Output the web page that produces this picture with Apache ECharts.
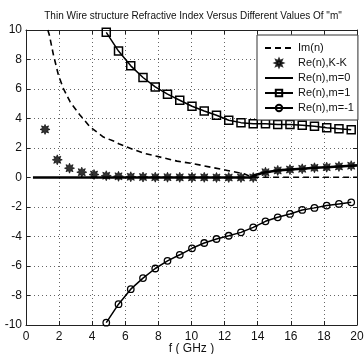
<!DOCTYPE html>
<html><head><meta charset="utf-8">
<script src="https://cdn.jsdelivr.net/npm/echarts@6/dist/echarts.min.js"></script>
<style>html,body{margin:0;padding:0;background:#fff}#c{width:364px;height:354px}</style>
</head><body><div id="c"></div>
<script>
// ---- data ----
const freq = [1.15,1.89,2.63,3.37,4.11,4.85,5.59,6.33,7.07,7.81,8.55,9.29,10.03,10.77,11.51,12.25,12.99,13.73,14.47,15.21,15.95,16.69,17.43,18.17,18.91,19.65];
const reKK = [3.26,1.2,0.63,0.36,0.2,0.12,0.08,0.05,0.03,0.02,0.02,0.01,0.01,0.01,0.0,0.0,0.0,0.0,0.36,0.48,0.54,0.59,0.66,0.70,0.75,0.80];
const freqM = freq.slice(5);
const reM1 = [9.84,8.57,7.57,6.78,6.14,5.65,5.24,4.83,4.51,4.22,3.88,3.72,3.65,3.65,3.6,3.6,3.54,3.47,3.38,3.31,3.24];
const reMm1 = [-9.84,-8.59,-7.57,-6.82,-6.17,-5.65,-5.24,-4.8,-4.44,-4.17,-3.95,-3.72,-3.38,-2.97,-2.7,-2.47,-2.2,-2.06,-1.9,-1.79,-1.68];
const imX = [1.32,1.41,1.66,1.96,2.26,2.67,3.27,3.88,4.68,5.29,5.6,6.1,7.1,8.12,9.13,10.14,11.15,12.16,13.17,13.6,14.0,16,18,20];
const imY = [10.0,9.66,8.3,6.94,6.03,5.12,4.22,3.42,2.74,2.47,2.29,2.06,1.65,1.38,1.11,0.93,0.7,0.48,0.25,0.05,0.02,0.02,0.02,0.02];
const m0X = [0.42,13.6,13.8,14.47,15.21,15.95,16.69,17.43,18.17,18.91,19.65,20];
const m0Y = [0,0,0.15,0.36,0.48,0.54,0.59,0.66,0.70,0.75,0.80,0.82];
const seriesNames = ['Im(n)','Re(n),K-K','Re(n),m=0','Re(n),m=1','Re(n),m=-1'];
const titleText = 'Thin Wire structure Refractive Index Versus Different Values Of "m"';
const xName = 'f ( GHz )';

const zip = (a,b) => a.map((v,i)=>[v,b[i]]);
// star symbol path
let pts=[];
for(let k=0;k<16;k++){const r=k%2?0.55:1;const a=k*Math.PI/8-Math.PI/2;pts.push((50+50*r*Math.cos(a)).toFixed(1)+' '+(50+50*r*Math.sin(a)).toFixed(1));}
const starPath='path://M'+pts.join(' L')+' Z';

const FONT='"Liberation Sans", Arial, sans-serif';
const gridLine = {show:true,lineStyle:{color:'#666',type:[1,3],width:1}};
const axisCommon = {
  axisLine:{show:true,onZero:false,lineStyle:{color:'#222'}},
  axisTick:{show:true,inside:true,length:4,lineStyle:{color:'#222'}}
};
const chart = echarts.init(document.getElementById('c'),null,{renderer:'canvas'});
chart.setOption({
  animation:false,
  backgroundColor:'#fff',
  graphic:[{type:'text',x:193,y:16,scaleX:0.87,z:10,
    style:{text:titleText,font:'11.5px "Liberation Sans", Arial, sans-serif',fill:'#111',align:'center',verticalAlign:'middle'}}],
  grid:{left:26,right:7,top:30,bottom:29,outerBoundsMode:'none',containLabel:false},
  legend:{
    data:[
      {name:seriesNames[0],itemStyle:{opacity:0}},
      {name:seriesNames[1]},
      {name:seriesNames[2],itemStyle:{opacity:0}},
      {name:seriesNames[3]},
      {name:seriesNames[4]}
    ],
    orient:'vertical', left:257, top:35,
    backgroundColor:'#fff', borderColor:'#333', borderWidth:1,
    padding:[6,4,5,7], itemGap:1, itemWidth:28, itemHeight:8,
    textStyle:{fontFamily:FONT,fontSize:11,color:'#111',lineHeight:14}
  },
  xAxis:[Object.assign({
    type:'value',min:0,max:20,interval:2,
    name:xName,nameLocation:'middle',nameGap:18,nameMoveOverlap:false,
    nameTextStyle:{fontFamily:FONT,fontSize:12,color:'#111'},
    axisLabel:{fontFamily:FONT,fontSize:12,color:'#111',margin:6},
    splitLine:gridLine
  },axisCommon),Object.assign({
    type:'value',min:0,max:20,interval:2,position:'top',
    axisLabel:{show:false},splitLine:{show:false}
  },axisCommon)],
  yAxis:[Object.assign({
    type:'value',min:-10,max:10,interval:2,
    axisLabel:{fontFamily:FONT,fontSize:12,color:'#111',margin:4},
    splitLine:gridLine
  },axisCommon),Object.assign({
    type:'value',min:-10,max:10,interval:2,position:'right',
    axisLabel:{show:false},splitLine:{show:false}
  },axisCommon)],
  series:[
    {name:seriesNames[0],type:'line',data:zip(imX,imY),symbol:'none',
     lineStyle:{color:'#000',width:1.6,type:[6,4]},itemStyle:{color:'#000'}},
    {name:seriesNames[1],type:'scatter',data:zip(freq,reKK),symbol:starPath,symbolSize:10,
     itemStyle:{color:'#000',borderColor:'#000',borderWidth:0.8},z:4},
    {name:seriesNames[2],type:'line',data:zip(m0X,m0Y),symbol:'none',
     lineStyle:{color:'#000',width:2.6},itemStyle:{color:'#000'}},
    {name:seriesNames[3],type:'line',data:zip(freqM,reM1),symbol:'rect',symbolSize:8,
     lineStyle:{color:'#000',width:1.5},itemStyle:{color:'rgba(0,0,0,0)',borderColor:'#000',borderWidth:1.5}},
    {name:seriesNames[4],type:'line',data:zip(freqM,reMm1),symbol:'circle',symbolSize:6.5,
     lineStyle:{color:'#000',width:1.5},itemStyle:{color:'rgba(0,0,0,0)',borderColor:'#000',borderWidth:1.3}}
  ]
});
</script></body></html>
